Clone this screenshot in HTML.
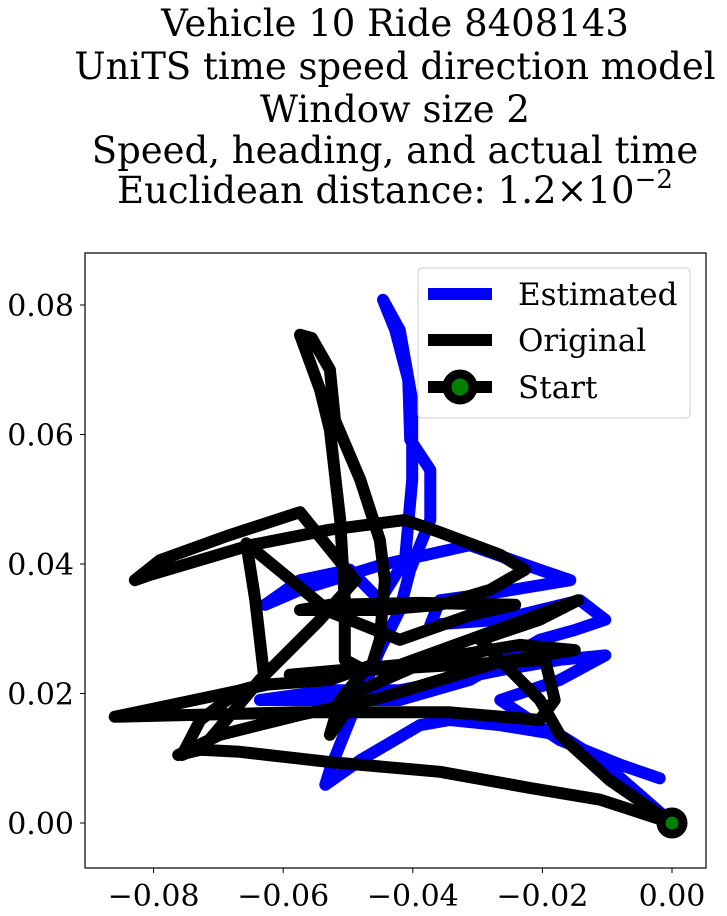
<!DOCTYPE html>
<html><head><meta charset="utf-8"><style>
html,body{margin:0;padding:0;background:#fff;}
svg{display:block;font-family:"DejaVu Serif","Liberation Serif",serif;}
</style></head><body>
<svg id="chart" width="727" height="916" viewBox="0 0 727 916" xmlns="http://www.w3.org/2000/svg">
<rect width="727" height="916" fill="#fff"/>
<g font-size="37" text-anchor="middle" fill="#000">
<text x="395" y="36">Vehicle 10 Ride 8408143</text>
<text x="395" y="79">UniTS time speed direction model</text>
<text x="395" y="122">Window size 2</text>
<text x="395" y="163">Speed, heading, and actual time</text>
<text x="395" y="203">Euclidean distance: 1.2×10<tspan dy="-15" font-size="26">−2</tspan></text>
</g>
<defs><clipPath id="clip"><rect x="85" y="253" width="621" height="615"/></clipPath></defs>
<g id="plot" clip-path="url(#clip)"></g>
<rect x="85" y="253" width="621" height="615" fill="none" stroke="#000" stroke-width="1.2"/>
<g id="axes" font-size="30" fill="#000"></g>
<g>
<rect x="418" y="268" width="272" height="150" rx="4" fill="#fff" fill-opacity="0.8" stroke="#ccc" stroke-width="1"/>
<line x1="428" y1="294" x2="492" y2="294" stroke="#0000ff" stroke-width="12"/>
<text x="518" y="305" font-size="31">Estimated</text>
<line x1="428" y1="340" x2="492" y2="340" stroke="#000" stroke-width="12"/>
<text x="518" y="351" font-size="31">Original</text>
<line x1="428" y1="387" x2="492" y2="387" stroke="#000" stroke-width="12"/>
<circle cx="460" cy="387" r="13" fill="green" stroke="#000" stroke-width="9"/>
<text x="518" y="398" font-size="31">Start</text>
</g>
</svg>
<script>
const origX=[0,-0.0111,-0.0219,-0.0358,-0.0528,-0.0667,-0.0728,-0.0762,-0.0698,-0.0574,-0.0451,-0.0358,-0.0265,-0.015,-0.0235,-0.0373,-0.0481,-0.0528,-0.0512,-0.0474,-0.0505,-0.0505,-0.0512,-0.0528,-0.0543,-0.0574,-0.0556,-0.0528,-0.052,-0.0481,-0.0451,-0.0443,-0.0451,-0.0463,-0.0528,-0.0636,-0.0667,-0.0728,-0.0756,-0.0721,-0.0636,-0.0543,-0.0489,-0.0574,-0.0682,-0.079,-0.0829,-0.0806,-0.0651,-0.0528,-0.0412,-0.0358,-0.0265,-0.0227,-0.0281,-0.0358,-0.0451,-0.0574,-0.0528,-0.0389,-0.0242,-0.0312,-0.042,-0.0528,-0.0657,-0.0643,-0.0628,-0.086,-0.0574,-0.0343,-0.0204,-0.0181,-0.0196,-0.059,-0.042,-0.0145,-0.0204,-0.0296,-0.0204,-0.0173,-0.0096,0];
const origY=[0,0.0036,0.0054,0.0079,0.0094,0.011,0.0113,0.0105,0.0136,0.0167,0.0193,0.0221,0.0249,0.0267,0.0275,0.0252,0.0205,0.0136,0.019,0.0236,0.0252,0.0344,0.0468,0.0607,0.0669,0.0754,0.0749,0.07,0.0622,0.053,0.0437,0.0375,0.0283,0.0244,0.0221,0.0213,0.0205,0.0159,0.0105,0.012,0.0221,0.0314,0.0375,0.048,0.0445,0.0406,0.0375,0.0383,0.0429,0.0453,0.0468,0.0449,0.0414,0.0391,0.036,0.0337,0.0329,0.0329,0.0337,0.034,0.0337,0.0321,0.0283,0.0326,0.0432,0.0344,0.0213,0.0164,0.0171,0.0171,0.0159,0.019,0.0252,0.0229,0.0244,0.0344,0.0314,0.0283,0.019,0.0136,0.0066,0];
const estX=[0,-0.0049,-0.0111,-0.0173,-0.0265,-0.0343,-0.0389,-0.0481,-0.0535,-0.0528,-0.0497,-0.0451,-0.042,-0.0404,-0.0373,-0.0373,-0.0404,-0.0407,-0.0427,-0.0446,-0.042,-0.0401,-0.0401,-0.0412,-0.0451,-0.0497,-0.0574,-0.0628,-0.0574,-0.0451,-0.0312,-0.0204,-0.0157,-0.0265,-0.0358,-0.0373,-0.0265,-0.0142,-0.0103,-0.015,-0.0204,-0.0312,-0.042,-0.0543,-0.0636,-0.0528,-0.042,-0.0265,-0.0173,-0.0103,-0.0173,-0.0265,-0.0173,-0.008,-0.0019];
const estY=[0,0.0043,0.0097,0.0136,0.0151,0.0159,0.0151,0.0097,0.0059,0.0082,0.0159,0.0267,0.0329,0.0391,0.0468,0.0545,0.0592,0.0684,0.0761,0.0808,0.0761,0.0653,0.053,0.0406,0.0344,0.0391,0.0375,0.0337,0.036,0.0398,0.0429,0.0391,0.0375,0.0357,0.0344,0.0306,0.0314,0.0344,0.0314,0.0298,0.0283,0.0221,0.019,0.019,0.019,0.0205,0.0205,0.0236,0.0252,0.0259,0.0221,0.019,0.0128,0.009,0.0069];
const xTicks=[-0.08,-0.06,-0.04,-0.02,0.00];
const yTicks=[0.00,0.02,0.04,0.06,0.08];
const startPt=[0,0];
const NS="http://www.w3.org/2000/svg";
function sx(v){return 672+v*6480;}
function sy(v){return 823-v*6475;}
const plot=document.getElementById('plot');
function line(xs,ys,color,name){
  const p=document.createElementNS(NS,'path');
  let d='';for(let i=0;i<xs.length;i++){d+=(i?'L':'M')+sx(xs[i]).toFixed(1)+','+sy(ys[i]).toFixed(1);}
  p.setAttribute('d',d);p.setAttribute('fill','none');p.setAttribute('stroke',color);
  p.setAttribute('stroke-width','12');p.setAttribute('stroke-linejoin','round');p.setAttribute('stroke-linecap','round');
  
  
  plot.appendChild(p);
}
line(estX,estY,'#0000ff','estimated-path');
line(origX,origY,'#000','original-path');
const c=document.createElementNS(NS,'circle');
c.setAttribute('cx',sx(startPt[0]));c.setAttribute('cy',sy(startPt[1]));c.setAttribute('r','11');
c.setAttribute('fill','green');c.setAttribute('stroke','#000');c.setAttribute('stroke-width','9');


plot.appendChild(c);
const ax=document.getElementById('axes');
xTicks.forEach(v=>{
  const x=sx(v);
  const t=document.createElementNS(NS,'line');
  t.setAttribute('x1',x);t.setAttribute('x2',x);t.setAttribute('y1',868);t.setAttribute('y2',873);t.setAttribute('stroke','#000');
  
  
  ax.appendChild(t);
  const l=document.createElementNS(NS,'text');
  l.setAttribute('x',x);l.setAttribute('y',906);l.setAttribute('text-anchor','middle');
  l.textContent=(v<0?'−':'')+Math.abs(v).toFixed(2);
  
  
  ax.appendChild(l);
});
yTicks.forEach(v=>{
  const y=sy(v);
  const t=document.createElementNS(NS,'line');
  t.setAttribute('x1',80);t.setAttribute('x2',85);t.setAttribute('y1',y);t.setAttribute('y2',y);t.setAttribute('stroke','#000');
  
  
  ax.appendChild(t);
  const l=document.createElementNS(NS,'text');
  l.setAttribute('x',74);l.setAttribute('y',y+11);l.setAttribute('text-anchor','end');
  l.textContent=v.toFixed(2);
  
  
  ax.appendChild(l);
});
</script>
</body></html>
